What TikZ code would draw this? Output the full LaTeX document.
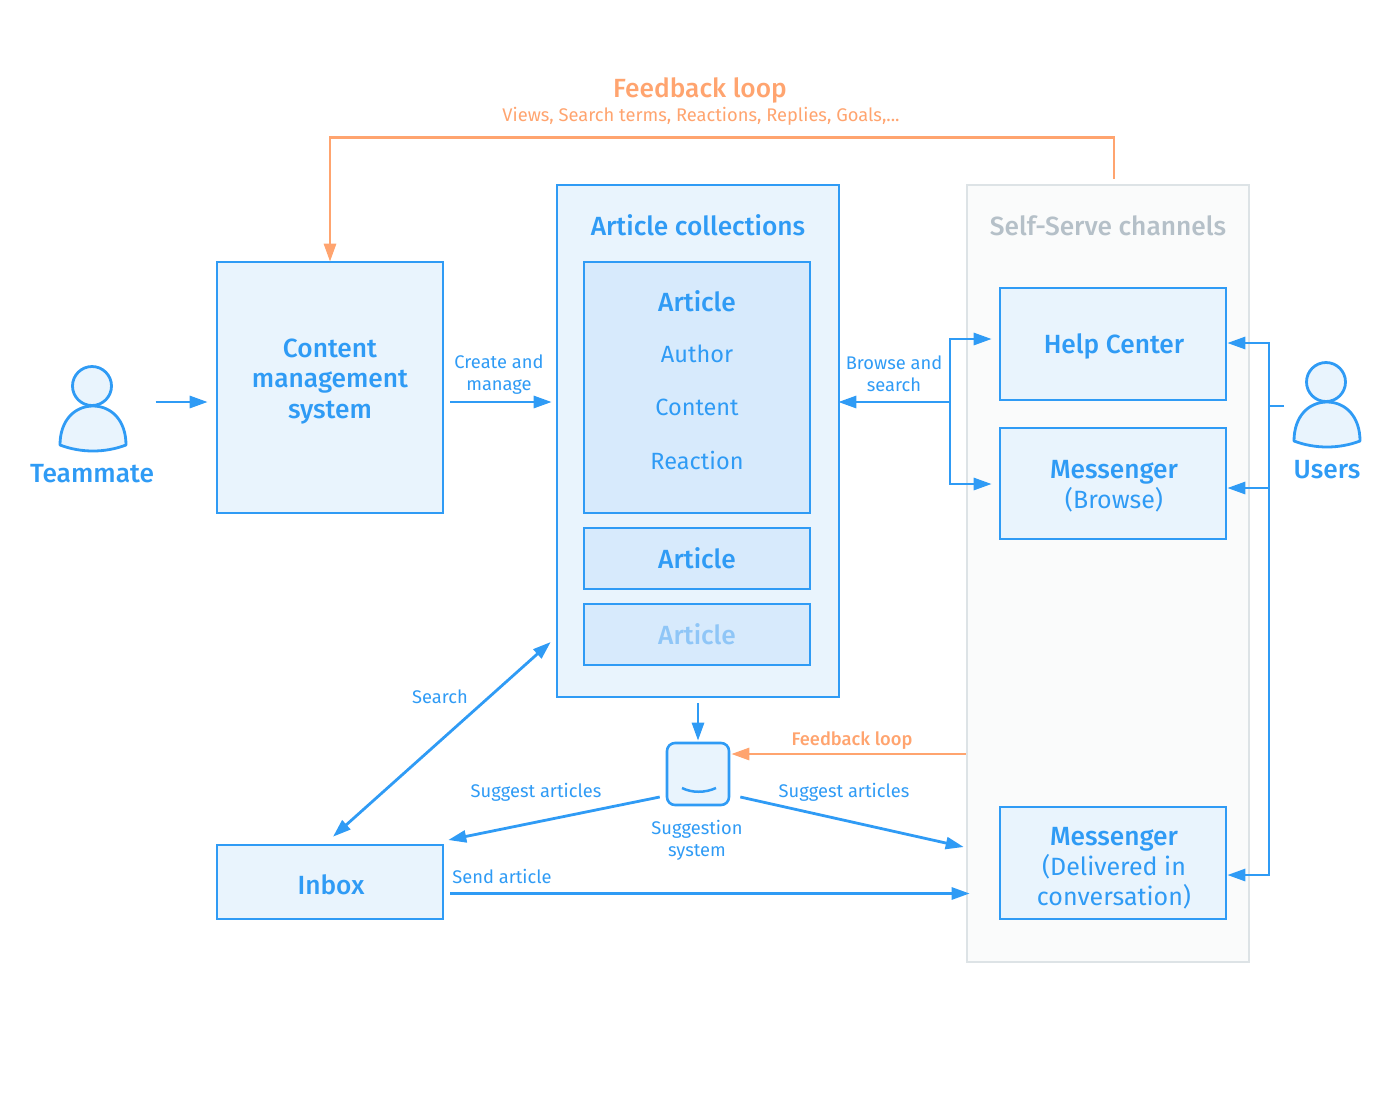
\documentclass[tikz,border=0pt]{standalone}
\usepackage{fontspec}
\setmainfont[BoldFont={Fira Sans Medium}]{Fira Sans}
\usetikzlibrary{arrows.meta,calc}
\definecolor{iblue}{HTML}{2F9BF5}
\definecolor{ipale}{HTML}{E9F4FD}
\definecolor{ideep}{HTML}{D7EAFC}
\definecolor{ifade}{HTML}{8FC6F7}
\definecolor{iorange}{HTML}{FFA46F}
\definecolor{igray}{HTML}{DDE3E6}
\definecolor{igraytext}{HTML}{B5C0C8}
\definecolor{iwash}{HTML}{FAFBFB}
\newcommand{\bigfont}{\fontsize{25}{30}\selectfont}
\newcommand{\headfont}{\fontsize{26.3}{30.5}\selectfont\bfseries}
\newcommand{\fieldfont}{\fontsize{23.5}{28}\selectfont}
\newcommand{\smallfont}{\fontsize{18.3}{22}\selectfont}
\tikzset{
  box/.style={draw=iblue, line width=2.6pt, fill=ipale, inner sep=0pt, minimum width=226pt},
  article/.style={box, fill=ideep},
  head/.style={text=iblue, font=\headfont, inner sep=0pt, align=center},
  field/.style={text=iblue, font=\fieldfont, inner sep=0pt},
  plain/.style={text=iblue, font=\bigfont, inner sep=0pt, align=center},
  note/.style={text=iblue, font=\smallfont, inner sep=0pt, align=center},
  flow/.style={draw=iblue, line width=2.8pt, -{Triangle[length=18pt,width=12pt]}},
  loopflow/.style={flow, draw=iorange, -{Triangle[length=18pt,width=12pt,fill=iorange]}},
  pics/person/.style={code={
    \draw[draw=iblue, line width=2.8pt, fill=ipale] (0,0) circle (19.5);
    \draw[draw=iblue, line width=2.8pt, fill=ipale, line join=round] (-32,59) .. controls (-32,34) and (-17,20) .. (1,20) .. controls (19,20) and (34,34) .. (34,59) .. controls (13,67) and (-11,67) .. cycle;
  }}
}
\begin{document}
\begin{tikzpicture}[x=1pt,y=-1pt]
  \useasboundingbox (0,0) rectangle (1400,1104);
  % channels panel goes first, the arrows run over it
  \node[draw=igray, fill=iwash, line width=2.6pt, minimum width=282pt, minimum height=777pt] (channels) at (1108,573.5) {};
  \node[head, text=igraytext] (channelstitle) at (1108,226) {Self-Serve channels};
  \node[box, minimum height=112pt] (help) at (1113,344) {};
  \node[head] (helpname) at (1114,346) {Help Center};
  \node[box, minimum height=111pt] (browse) at (1113,483.5) {};
  \node[plain] (browsename) at (1114,486) {\headfont Messenger\\(Browse)};
  \node[box, minimum height=112pt] (delivered) at (1113,863) {};
  \node[plain] (deliveredname) at (1114,868) {\headfont Messenger\\(Delivered in\\conversation)};

  % left side
  \pic at (92,386) {person};
  \node[head] (teammate) at (92,474) {Teammate};
  \node[box, minimum height=251pt] (cms) at (330,387.5) {};
  \node[head] (cmsname) at (330,381.5) {Content\\management\\system};
  \node[box, minimum height=74pt] (inbox) at (330,882) {};
  \node[head] (inboxname) at (331,885) {Inbox};

  % collections
  \node[box, minimum width=282pt, minimum height=512pt] (collections) at (698,441) {};
  \node[head] (collectionstitle) at (698,225) {Article collections};
  \node[article, minimum height=251pt] (article1) at (697,387.5) {};
  \node[head] (articlename) at (697,301) {Article};
  \node[field] (author) at (697,354) {Author};
  \node[field] (content) at (697,407) {Content};
  \node[field] (reaction) at (697,460) {Reaction};
  \node[article, minimum height=61pt, text=iblue, font=\headfont] (article2) at (697,558.5) {Article};
  \node[article, minimum height=61pt, text=ifade, font=\headfont] (article3) at (697,634.5) {Article};

  % suggestion system
  \node[box, rounded corners=8pt, minimum width=62pt, minimum height=62pt] (bot) at (698,774) {};
  \draw[draw=iblue, line width=2.5pt] ($(bot.center)+(-16,14)$) .. controls ($(bot.center)+(-6,19)$) and ($(bot.center)+(7,19)$) .. ($(bot.center)+(18,14)$);
  \node[note] (botname) at (697,840) {Suggestion\\system};

  % users
  \pic at (1326,382) {person};
  \node[head] (users) at (1327,470) {Users};

  % arrows
  \draw[flow] ($(cms.west)+(-60,14.5)$) -- ($(cms.west)+(-8,14.5)$);
  \draw[flow] ($(cms.east)+(6,14.5)$) -- ($(collections.west)+(-4,-39)$);
  \coordinate (browsejoin) at (950,402);
  \draw[flow] (browsejoin) -- ($(collections.east)+(-2,-39)$);
  \draw[flow] (browsejoin) |- ($(help.west)+(-7,-5)$);
  \draw[flow] (browsejoin) |- ($(browse.west)+(-7,0.5)$);
  \coordinate (usersjoin) at (1269,406);
  \draw[draw=iblue, line width=2.8pt] ($(usersjoin)+(15,0)$) -- (usersjoin);
  \draw[flow] (usersjoin) |- ($(help.east)+(0,-1)$);
  \draw[flow] (usersjoin) |- ($(browse.east)+(0,4.5)$);
  \draw[flow] (usersjoin) |- ($(delivered.east)+(0,12)$);
  \draw[flow, {Triangle[length=18pt,width=12pt]}-{Triangle[length=18pt,width=12pt]}] ($(collections.west)+(-5,201)$) -- ($(inbox.north)+(3,-7)$);
  \draw[flow] ($(collections.south)+(0,5)$) -- ($(bot.north)+(0,-1)$);
  \draw[flow] ($(bot.west)+(-6,23)$) -- ($(inbox.east)+(4,-42)$);
  \draw[flow] ($(bot.east)+(10,23)$) -- ($(delivered.west)+(-35,-16)$);
  \draw[flow] ($(inbox.east)+(6,11.5)$) -- ($(delivered.west)+(-29,30.5)$);
  \draw[loopflow] ($(channels.west)+(0,180.5)$) -- ($(bot.east)+(1,-20)$);
  \draw[loopflow] ($(channels.north)+(6,-5)$) -- ++(0,-41) -| ($(cms.north)+(0,1)$);

  % labels
  \node[note] (createlabel) at (499,375) {Create and\\manage};
  \node[note] (browselabel) at (894,374) {Browse and\\search};
  \node[note] (searchlabel) at (440,697) {Search};
  \node[note] (suggestleft) at (536,792) {Suggest articles};
  \node[note] (suggestright) at (844,792) {Suggest articles};
  \node[note] (sendlabel) at (502,876) {Send article};
  \node[note, text=iorange, font=\smallfont\bfseries] (feedbacksmall) at (852,741) {Feedback loop};
  \node[head, text=iorange] (feedbacktitle) at (700,90) {Feedback loop};
  \node[note, text=iorange] (feedbacknote) at (701,116) {Views, Search terms, Reactions, Replies, Goals,...};
\end{tikzpicture}
\end{document}
